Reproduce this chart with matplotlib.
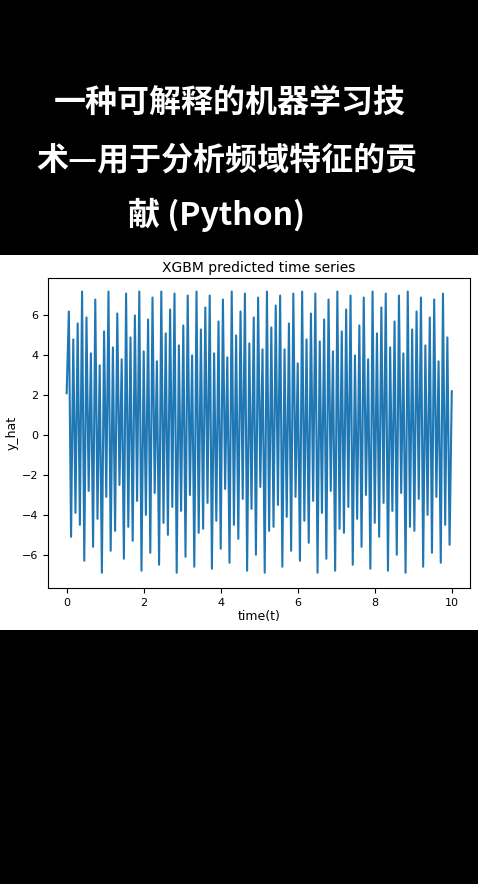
import matplotlib
matplotlib.use("Agg")
import matplotlib.pyplot as plt
import numpy as np

y_hat = [2.1, 6.2, -5.1, 4.8, -3.9, 5.6, -4.5, 7.2, -6.3, 5.9, -2.8, 4.1, -5.6, 6.8, -4.2, 3.5,
         -6.9, 5.2, -3.1, 7.2, -5.8, 4.4, -4.8, 6.1, -2.5, 3.8, -6.2, 7.1, -4.6, 4.9, -5.3, 6.0,
         -3.3, 7.2, -6.8, 4.2, -4.0, 5.8, -5.9, 6.9, -2.9, 3.7, -6.5, 7.2, -4.4, 5.1, -5.0, 6.3,
         -3.6, 7.1, -6.9, 4.5, -3.8, 5.5, -6.1, 7.0, -3.0, 4.0, -6.6, 7.2, -4.9, 5.3, -4.7, 6.4,
         -3.4, 7.0, -6.7, 4.1, -4.3, 5.7, -5.7, 6.8, -2.7, 3.9, -6.4, 7.2, -4.5, 5.0, -5.2, 6.2,
         -3.2, 7.1, -6.8, 4.6, -3.7, 5.9, -6.0, 6.9, -2.6, 4.3, -6.9, 7.2, -4.8, 5.4, -4.6, 6.5,
         -3.5, 7.0, -6.6, 4.3, -4.1, 5.6, -5.8, 7.1, -3.1, 3.6, -6.3, 7.2, -4.3, 4.8, -5.4, 6.1,
         -3.3, 7.1, -6.9, 4.7, -3.9, 5.8, -6.2, 6.8, -2.8, 4.2, -6.8, 7.2, -4.7, 5.2, -4.9, 6.3,
         -3.6, 7.0, -6.5, 4.0, -4.2, 5.5, -5.6, 6.9, -3.0, 3.8, -6.7, 7.2, -4.4, 5.1, -5.1, 6.4,
         -3.4, 7.1, -6.8, 4.4, -3.8, 5.7, -6.0, 7.0, -2.9, 4.1, -6.9, 7.2, -4.6, 5.3, -4.8, 6.2,
         -3.2, 6.9, -6.6, 4.5, -4.0, 5.9, -5.9, 6.8, -3.1, 3.7, -6.4, 7.1, -4.5, 4.9, -5.5, 2.2]
t = np.linspace(0, 10, len(y_hat))

fig = plt.figure(figsize=(4.78, 8.84), dpi=100, facecolor="black")
bg = plt.Rectangle((0, 1 - 630/884), 1, (630-255)/884, transform=fig.transFigure,
                   facecolor="white", zorder=-10)
fig.add_artist(bg)
fam = ["Noto Sans CJK SC", "DejaVu Sans"]
fig.text(230/478, 1 - 103/884, "一种可解释的机器学习技", color="white", fontsize=23, fontweight="bold",
         ha="center", va="center", family=fam)
fig.text(227/478, 1 - 160/884, "术—用于分析频域特征的贡", color="white", fontsize=23, fontweight="bold",
         ha="center", va="center", family=fam)
fig.text(217/478, 1 - 215/884, "献 (Python)", color="white", fontsize=23, fontweight="bold",
         ha="center", va="center", family=fam)

ax = fig.add_axes([0.100, 0.335, 0.883, 0.351])
ax.set_zorder(5)
ax.plot(t, y_hat, color="#1f77b4", lw=1.5)
ax.set_xlim(-0.49, 10.47)
ax.set_ylim(-7.66, 7.9)
ax.set_xticks([0, 2, 4, 6, 8, 10])
ax.set_yticks([-6, -4, -2, 0, 2, 4, 6])
ax.tick_params(labelsize=8)
ax.set_title("XGBM predicted time series", fontsize=10, pad=4)
ax.set_xlabel("time(t)", fontsize=9, labelpad=2)
ax.set_ylabel("y_hat", fontsize=9, labelpad=2)
fig.savefig("out.png", dpi=100, facecolor="black")
